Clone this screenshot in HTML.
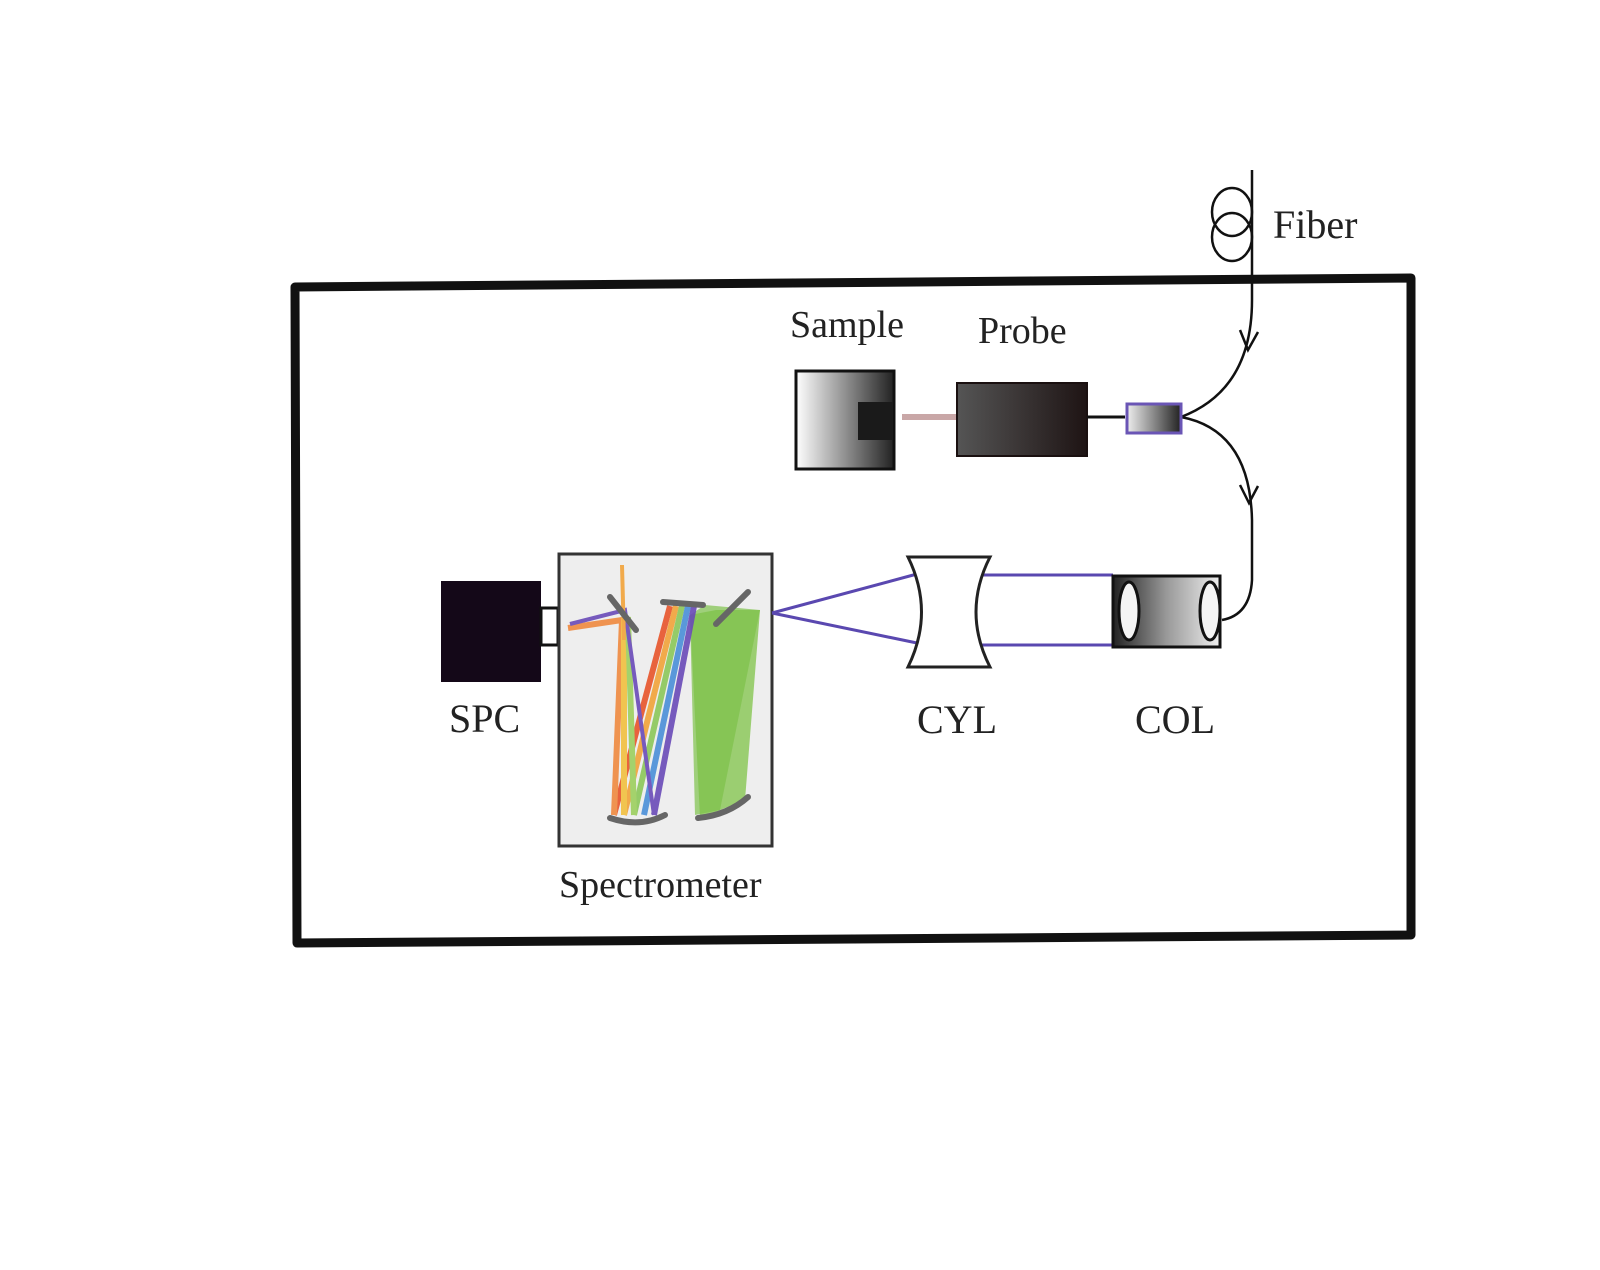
<!DOCTYPE html>
<html><head><meta charset="utf-8"><style>
html,body{margin:0;padding:0;background:#fff}
svg{display:block}
text{font-family:"Liberation Serif",serif;fill:#222}
</style></head><body>
<svg width="1600" height="1270" viewBox="0 0 1600 1270" xmlns="http://www.w3.org/2000/svg">
<defs>
<linearGradient id="gS" x1="0" x2="1"><stop offset="0" stop-color="#fff"/><stop offset="1" stop-color="#222"/></linearGradient>
<linearGradient id="gP" x1="0" x2="1"><stop offset="0" stop-color="#555"/><stop offset="1" stop-color="#1e1414"/></linearGradient>
<linearGradient id="gC" x1="0" x2="1"><stop offset="0" stop-color="#eee"/><stop offset="1" stop-color="#222"/></linearGradient>
<linearGradient id="gCol" x1="0" x2="1"><stop offset="0" stop-color="#222"/><stop offset="0.5" stop-color="#999"/><stop offset="1" stop-color="#eee"/></linearGradient>
</defs>
<rect width="1600" height="1270" fill="#fff"/>
<polygon points="295,287 1411,278 1411,935 297,943" fill="none" stroke="#111" stroke-width="9" stroke-linejoin="round"/>
<ellipse cx="1232" cy="212" rx="20" ry="24" fill="none" stroke="#111" stroke-width="2.5"/>
<ellipse cx="1232" cy="237" rx="20" ry="24" fill="none" stroke="#111" stroke-width="2.5"/>
<path d="M1252,170 L1252,300 Q1252,390 1181,417" fill="none" stroke="#111" stroke-width="2.5"/>
<path d="M1240,330 L1248,350 L1258,332" fill="none" stroke="#111" stroke-width="2.5"/>
<path d="M1181,417 Q1250,430 1252,520 L1252,580 Q1250,615 1222,620" fill="none" stroke="#111" stroke-width="2.5"/>
<path d="M1240,485 L1249,503 L1258,486" fill="none" stroke="#111" stroke-width="2.5"/>
<text x="1273" y="238" font-size="40">Fiber</text>
<text x="790" y="337" font-size="38">Sample</text>
<text x="978" y="343" font-size="38">Probe</text>
<rect x="796" y="371" width="98" height="98" fill="url(#gS)" stroke="#111" stroke-width="3"/>
<rect x="858" y="402" width="35" height="38" fill="#1a1a1a"/>
<line x1="902" y1="417" x2="957" y2="417" stroke="#c9a7a7" stroke-width="6"/>
<rect x="957" y="383" width="130" height="73" fill="url(#gP)" stroke="#1a1010" stroke-width="2"/>
<line x1="1087" y1="417" x2="1125" y2="417" stroke="#111" stroke-width="3"/>
<rect x="1127" y="404" width="54" height="29" fill="url(#gC)" stroke="#6a55b5" stroke-width="3"/>
<rect x="441" y="581" width="100" height="101" fill="#140818"/>
<rect x="541" y="608" width="17" height="37" fill="#fff" stroke="#111" stroke-width="3"/>
<text x="449" y="732" font-size="40">SPC</text>
<rect x="559" y="554" width="213" height="292" fill="#eeeeee" stroke="#333" stroke-width="3"/>
<polygon points="716,610 760,610 745,800 700,818 690,615" fill="#8cc85a" opacity="0.85"/>
<polygon points="690,615 705,605 760,610 720,810 695,815" fill="#7dc24a" opacity="0.7"/>
<g stroke-width="6" fill="none" opacity="0.9">
<path d="M670,606 L614,815" stroke="#e8542a"/>
<path d="M676,606 L624,815" stroke="#f2a33a"/>
<path d="M682,606 L634,815" stroke="#8cc85a"/>
<path d="M688,606 L644,815" stroke="#4a8fd8"/>
<path d="M694,606 L654,815" stroke="#6a4ab8"/>
<path d="M614,815 L622,620 L568,628" stroke="#f08a40"/>
<path d="M624,815 L624,618" stroke="#f2c040"/>
<path d="M634,815 L628,617" stroke="#9ccf5e"/>
<path d="M654,815 L625,610 L570,624" stroke="#6a4ab8" stroke-width="4"/>
<path d="M622,565 L624,640" stroke="#f2a33a" stroke-width="4"/>
</g>
<g stroke="#666" stroke-width="6" stroke-linecap="round" fill="none">
<line x1="610" y1="597" x2="636" y2="630"/>
<line x1="663" y1="602" x2="703" y2="605"/>
<line x1="716" y1="624" x2="748" y2="592"/>
<path d="M610,818 Q640,828 665,815"/>
<path d="M698,818 Q728,815 748,797"/>
</g>
<text x="559" y="897" font-size="38">Spectrometer</text>
<g stroke="#5a48b0" stroke-width="3">
<line x1="772" y1="613" x2="917" y2="574"/>
<line x1="772" y1="613" x2="917" y2="643"/>
<line x1="980" y1="575" x2="1113" y2="575"/>
<line x1="980" y1="645" x2="1113" y2="645"/>
</g>
<path d="M908,557 L990,557 Q962,612 990,667 L908,667 Q935,612 908,557 Z" fill="#fff" stroke="#222" stroke-width="3"/>
<text x="917" y="733" font-size="40">CYL</text>
<rect x="1113" y="576" width="107" height="71" fill="url(#gCol)" stroke="#111" stroke-width="3"/>
<ellipse cx="1129" cy="611" rx="10" ry="29" fill="#f4f4f4" stroke="#111" stroke-width="3"/>
<ellipse cx="1210" cy="611" rx="10" ry="29" fill="#f4f4f4" stroke="#111" stroke-width="3"/>
<text x="1135" y="733" font-size="40">COL</text>
</svg>
</body></html>
